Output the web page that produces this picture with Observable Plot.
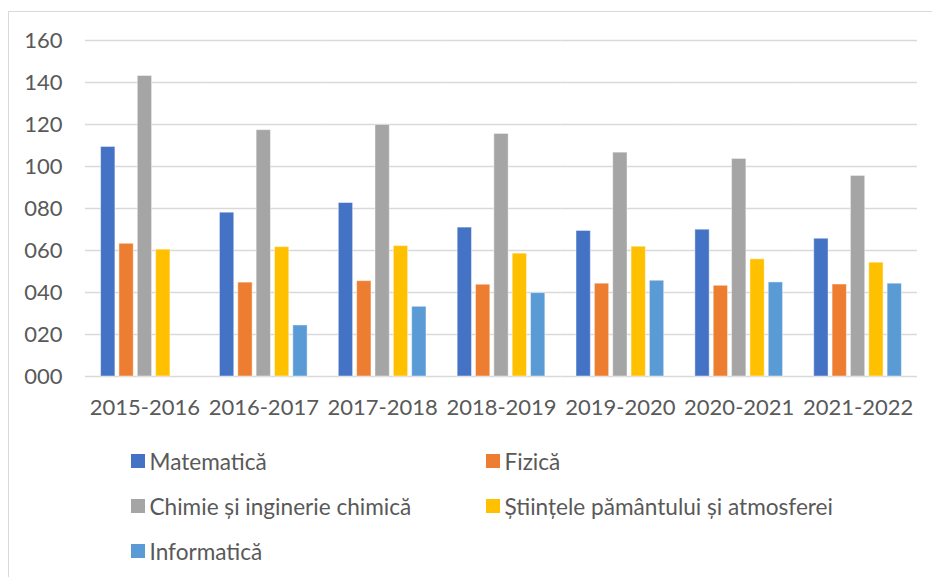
<!DOCTYPE html>
<html>
<head>
<meta charset="utf-8">
<script src="https://cdn.jsdelivr.net/npm/d3@7"></script>
<script src="https://cdn.jsdelivr.net/npm/@observablehq/plot@0.6"></script>
<style>
  html, body { margin: 0; padding: 0; background: #fff; }
  #wrap { position: relative; width: 932px; height: 577px; overflow: hidden; font-family: Lato, sans-serif; }
  #frame { position: absolute; left: 8px; top: 11px; width: 940px; height: 600px; border-left: 1.5px solid #d9d9d9; border-top: 1.5px solid #d9d9d9; }
  #chart { position: absolute; left: 0; top: 0; }
  .lg { position: absolute; display: flex; align-items: center; height: 24px; font-size: 22.6px; color: #595959; white-space: nowrap; }
  .sw { width: 13.5px; height: 13.5px; margin-right: 5px; flex: none; }
</style>
</head>
<body>
<div id="wrap">
  <div id="frame"></div>
  <div id="chart"></div>
</div>
<script>
const years = ["2015-2016", "2016-2017", "2017-2018", "2018-2019", "2019-2020", "2020-2021", "2021-2022"];
const seriesNames = ["Matematică", "Fizică", "Chimie și inginerie chimică", "Științele pământului și atmosferei", "Informatică"];
const seriesColors = ["#4472C4", "#ED7D31", "#A5A5A5", "#FFC000", "#5B9BD5"];
const matematica = [109.3, 78.0, 82.6, 70.9, 69.3, 69.9, 65.6];
const fizica = [63.2, 44.7, 45.4, 43.7, 44.2, 43.2, 43.8];
const chimie = [143.1, 117.3, 119.8, 115.5, 106.6, 103.6, 95.5];
const stiinte = [60.4, 61.6, 62.1, 58.5, 61.8, 55.8, 54.2];
const informatica = [null, 24.3, 33.2, 39.7, 45.6, 44.8, 44.2];
const yTicks = [0, 20, 40, 60, 80, 100, 120, 140, 160];

const valuesBySeries = [matematica, fizica, chimie, stiinte, informatica];
const data = years.flatMap((yr, i) =>
  seriesNames.map((s, j) => ({year: yr, series: s, value: valuesBySeries[j][i]}))
).filter(d => d.value != null);

const chart = Plot.plot({
  width: 932,
  height: 430,
  marginTop: 40,
  marginBottom: 54,
  marginLeft: 85,
  marginRight: 15,
  style: {fontFamily: "Lato, sans-serif", fontSize: "22px", color: "#595959", background: "transparent", overflow: "visible"},
  fx: {domain: years, padding: 0, round: false, label: null, axis: "bottom", tickSize: 0, tickPadding: 23},
  x: {domain: seriesNames, paddingInner: 0.22, paddingOuter: 0.85, round: false, axis: null},
  y: {domain: [0, 160], ticks: yTicks, tickFormat: d3.format("03d"), label: null, tickSize: 0, tickPadding: 23},
  color: {domain: seriesNames, range: seriesColors},
  marks: [
    Plot.gridY(yTicks, {stroke: "#d9d9d9", strokeOpacity: 1, strokeWidth: 1.6}),
    Plot.barY(data, {fx: "year", x: "series", y: "value", fill: "series", stroke: "#ffffff", strokeOpacity: 0.45, strokeWidth: 1})
  ]
});
document.getElementById("chart").appendChild(chart);

// Legend (two columns, three rows) built from the series arrays and the chart's colour scale
const colorScale = chart.scale("color");
const wrap = document.getElementById("wrap");
const colX = [131, 486];
const rowY = [461, 506, 551];
seriesNames.forEach((name, i) => {
  const el = document.createElement("div");
  el.className = "lg";
  el.style.left = colX[i % 2] + "px";
  el.style.top = (rowY[Math.floor(i / 2)] - 12) + "px";
  const sw = document.createElement("span");
  sw.className = "sw";
  sw.style.background = colorScale.range[colorScale.domain.indexOf(name)];
  const tx = document.createElement("span");
  tx.textContent = name;
  el.appendChild(sw);
  el.appendChild(tx);
  wrap.appendChild(el);
});
</script>
</body>
</html>
